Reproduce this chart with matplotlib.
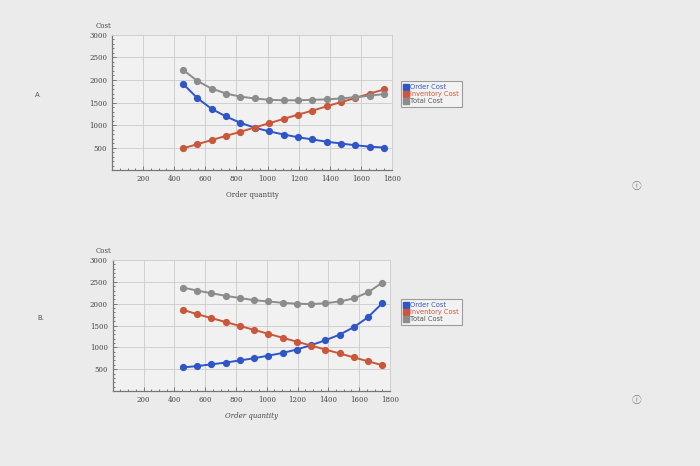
import matplotlib
matplotlib.use("Agg")
import matplotlib.pyplot as plt
from matplotlib.lines import Line2D
from matplotlib.ticker import MultipleLocator

order_qty = [455, 548, 640, 733, 825, 918, 1010, 1103, 1195, 1288, 1380, 1473, 1565, 1658, 1750]

a_order = [1920, 1600, 1360, 1190, 1050, 940, 860, 790, 730, 680, 630, 590, 550, 520, 500]
a_inventory = [480, 575, 665, 760, 850, 945, 1040, 1135, 1230, 1320, 1415, 1510, 1600, 1700, 1790]
a_total = [2230, 1980, 1810, 1700, 1630, 1590, 1560, 1550, 1550, 1560, 1570, 1590, 1620, 1650, 1690]

b_order = [540, 570, 610, 650, 700, 750, 810, 870, 950, 1050, 1160, 1290, 1460, 1690, 2010]
b_inventory = [1860, 1760, 1670, 1580, 1490, 1400, 1310, 1220, 1130, 1040, 950, 860, 770, 680, 590]
b_total = [2370, 2300, 2240, 2180, 2130, 2080, 2050, 2020, 2000, 1990, 2010, 2050, 2120, 2260, 2480]

series_names = ["Order Cost", "Inventory Cost", "Total Cost"]
colors = ["#2f56c6", "#c9573b", "#8c8c8c"]
x_ticks = [200, 400, 600, 800, 1000, 1200, 1400, 1600, 1800]
y_ticks = [500, 1000, 1500, 2000, 2500, 3000]

fig = plt.figure(figsize=(7, 4.66), dpi=100)
fig.patch.set_facecolor("#ebebeb")
serif = "DejaVu Serif"

def draw(rect, series, label, label_y, legend_rect, info_y, italic_x=False):
    ax = fig.add_axes(rect)
    ax.set_facecolor("#f1f1f1")
    for vals, c in zip(series, colors):
        ax.plot(order_qty, vals, color=c, lw=1.4, marker="o", ms=4.2, zorder=3)
    ax.set_xlim(0, 1800)
    ax.set_ylim(0, 3000)
    ax.set_xticks(x_ticks)
    ax.set_yticks(y_ticks)
    ax.xaxis.set_minor_locator(MultipleLocator(50))
    ax.yaxis.set_minor_locator(MultipleLocator(100))
    ax.grid(True, color="#cfcfcf", lw=0.7, zorder=0)
    for s in ["top", "right"]:
        ax.spines[s].set_color("#cfcfcf")
        ax.spines[s].set_linewidth(0.7)
    for s in ["left", "bottom"]:
        ax.spines[s].set_color("#777777")
        ax.spines[s].set_linewidth(0.9)
    ax.tick_params(which="both", direction="in", colors="#777777", labelcolor="#444444",
                   labelsize=5, length=3, width=0.7)
    ax.tick_params(which="minor", length=1.5)
    for t in ax.get_xticklabels() + ax.get_yticklabels():
        t.set_family(serif)
    ax.text(-0.06, 1.04, "Cost", transform=ax.transAxes, fontsize=5, family=serif,
            color="#444444", ha="left", va="bottom")
    ax.set_xlabel("Order quantity", fontsize=5, family=serif, color="#444444",
                  style="italic" if italic_x else "normal", labelpad=6)
    handles = [Line2D([], [], marker="s", ls="", color=c, ms=4) for c in colors]
    leg = fig.legend(handles, series_names, loc="upper left", bbox_to_anchor=legend_rect,
                     fontsize=4.8, frameon=True, fancybox=False, handletextpad=0.2,
                     borderpad=0.4, labelspacing=0.15, handlelength=0.8)
    leg.get_frame().set_edgecolor("#888888")
    leg.get_frame().set_linewidth(0.8)
    leg.get_frame().set_facecolor("#f4f4f4")
    for t, c in zip(leg.get_texts(), colors):
        t.set_color(c if c != colors[2] else "#555555")
    fig.text(label_y[0], label_y[1], label, fontsize=5, color="#555555", ha="center", va="center")
    fig.text(0.909, info_y, "ⓘ", fontsize=7, color="#777777", ha="center", va="center",
             family=["Noto Sans CJK SC", "DejaVu Sans"])
    return ax

draw([0.160, 0.635, 0.40, 0.29], [a_order, a_inventory, a_total], "A.",
     (0.055, 1 - 95 / 466), (0.568, 1 - 78 / 466), 1 - 186 / 466)
draw([0.161, 0.161, 0.396, 0.281], [b_order, b_inventory, b_total], "B.",
     (0.059, 1 - 318 / 466), (0.568, 1 - 296 / 466), 1 - 400 / 466, italic_x=True)

fig.savefig("out.png", dpi=100, facecolor=fig.get_facecolor())
